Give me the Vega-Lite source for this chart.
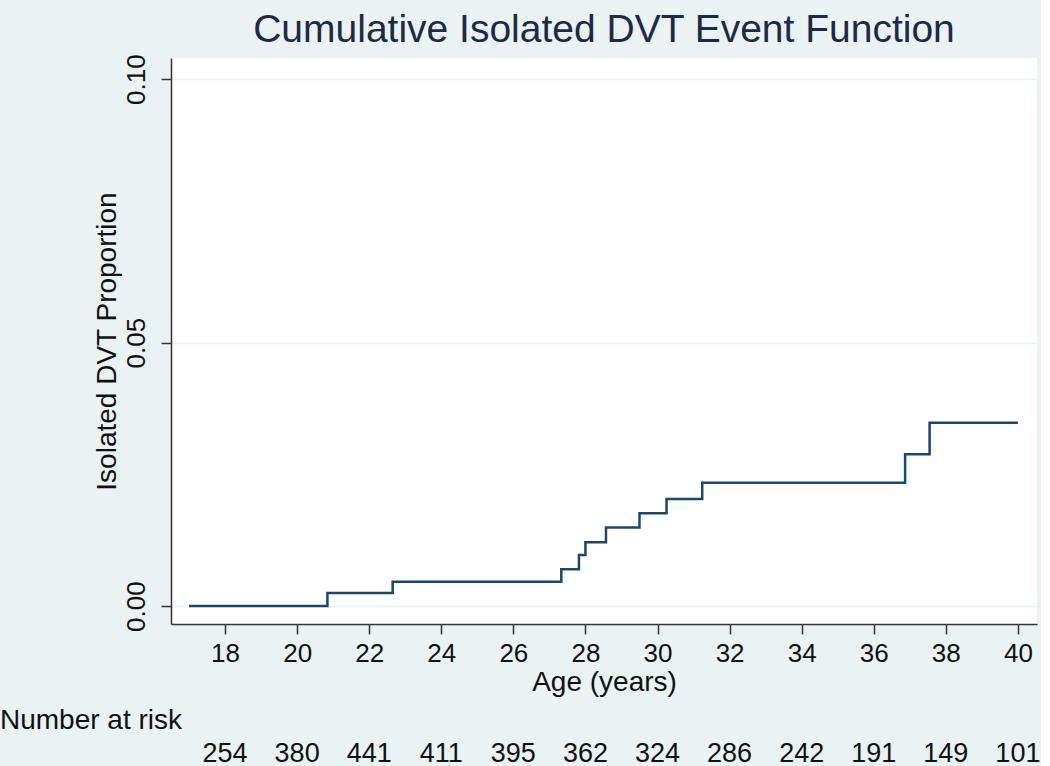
{
  "$schema": "https://vega.github.io/schema/vega-lite/v6.json",
  "background": "#EAF2F3",
  "padding": {"left": 0, "top": 10, "right": 0, "bottom": 0},
  "datasets": {
    "km": [
      {"age": 17.0, "proportion": 0.0},
      {"age": 20.84, "proportion": 0.0025},
      {"age": 22.65, "proportion": 0.0046},
      {"age": 27.33, "proportion": 0.0070},
      {"age": 27.82, "proportion": 0.0097},
      {"age": 28.0, "proportion": 0.0121},
      {"age": 28.57, "proportion": 0.0149},
      {"age": 29.5, "proportion": 0.0176},
      {"age": 30.25, "proportion": 0.0203},
      {"age": 31.24, "proportion": 0.0234},
      {"age": 36.87, "proportion": 0.0288},
      {"age": 37.55, "proportion": 0.0348},
      {"age": 40.0, "proportion": 0.0348}
    ],
    "risk": [
      {"age": 18, "n": 254},
      {"age": 20, "n": 380},
      {"age": 22, "n": 441},
      {"age": 24, "n": 411},
      {"age": 26, "n": 395},
      {"age": 28, "n": 362},
      {"age": 30, "n": 324},
      {"age": 32, "n": 286},
      {"age": 34, "n": 242},
      {"age": 36, "n": 191},
      {"age": 38, "n": 149},
      {"age": 40, "n": 101}
    ]
  },
  "config": {
    "font": "Liberation Sans",
    "concat": {"spacing": 11},
    "axis": {"labelColor": "#111111", "titleColor": "#111111", "titleFontWeight": "normal", "domainColor": "#333333", "tickColor": "#333333", "domainWidth": 1.5, "tickWidth": 1.5}
  },
  "vconcat": [
    {
      "width": 866,
      "height": 566,
      "title": {"text": "Cumulative Isolated DVT Event Function", "fontSize": 39, "fontWeight": "normal", "color": "#1c2a4a", "anchor": "middle", "frame": "group", "offset": 4},
      "view": {"fill": "white", "stroke": null},
      "data": {"name": "km"},
      "mark": {"type": "line", "interpolate": "step-after", "color": "#1A476F", "strokeWidth": 2.5},
      "encoding": {
        "x": {
          "field": "age", "type": "quantitative",
          "scale": {"domain": [16.5, 40.53], "nice": false, "zero": false},
          "axis": {"title": "Age (years)", "values": [18, 20, 22, 24, 26, 28, 30, 32, 34, 36, 38, 40], "labelFontSize": 26, "titleFontSize": 28, "tickSize": 10, "labelPadding": 6, "titlePadding": 2, "grid": false, "labelFlush": false}
        },
        "y": {
          "field": "proportion", "type": "quantitative",
          "scale": {"domain": [-0.0034, 0.104], "nice": false, "zero": false},
          "axis": {"title": "Isolated DVT Proportion", "values": [0, 0.05, 0.1], "format": ".2f", "labelAngle": -90, "labelFontSize": 26, "titleFontSize": 28, "tickSize": 10, "labelPadding": 12, "titlePadding": 2, "grid": true, "gridColor": "#EAF2F3", "gridWidth": 1.5, "labelFlush": false}
        }
      }
    },
    {
      "width": 866,
      "height": 30,
      "title": {"text": "Number at risk", "fontSize": 28, "fontWeight": "normal", "color": "#111111", "anchor": "start", "frame": "group", "dx": -171, "offset": 4},
      "view": {"stroke": null},
      "data": {"name": "risk"},
      "mark": {"type": "text", "fontSize": 27, "color": "#111111", "baseline": "middle"},
      "encoding": {
        "x": {"field": "age", "type": "quantitative", "scale": {"domain": [16.5, 40.53], "nice": false, "zero": false}, "axis": null},
        "text": {"field": "n", "type": "quantitative"}
      }
    }
  ]
}
